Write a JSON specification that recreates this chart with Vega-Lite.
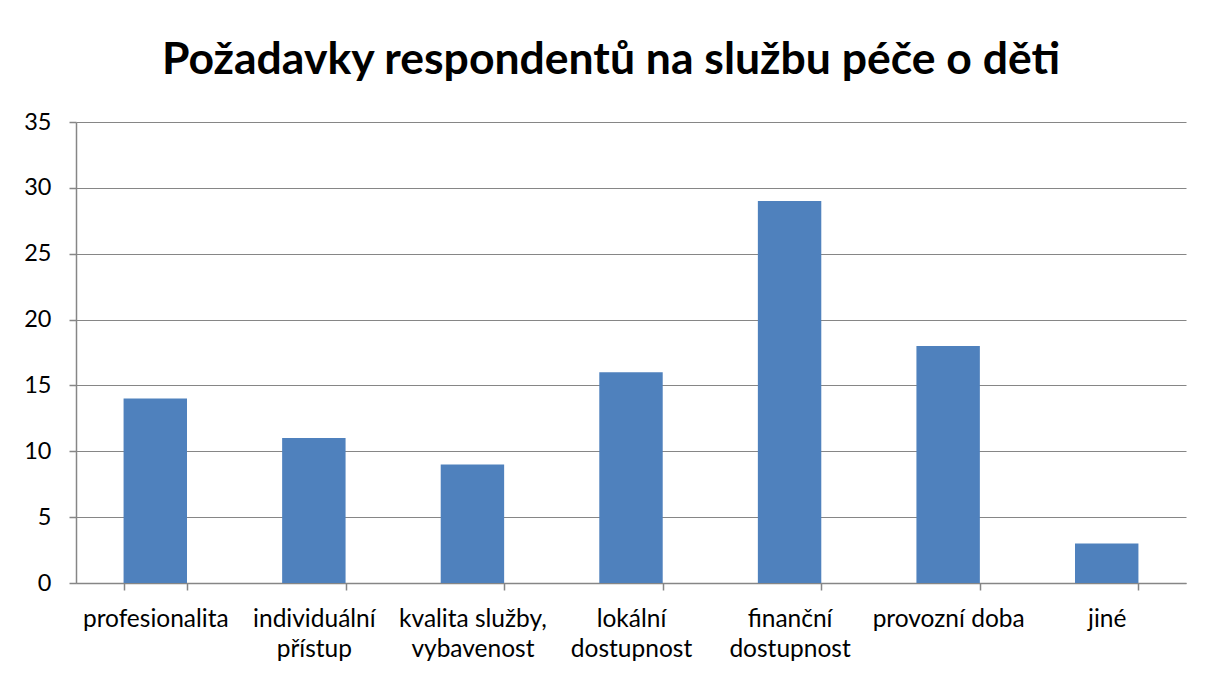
{
  "$schema": "https://vega.github.io/schema/vega-lite/v6.json",
  "width": 1110,
  "height": 461,
  "autosize": {"type": "none"},
  "padding": {"left": 76, "top": 122, "right": 20, "bottom": 92},
  "background": "white",
  "title": {
    "text": "Požadavky respondentů na službu péče o děti",
    "font": "Lato",
    "fontSize": 44.5,
    "fontWeight": "bold",
    "color": "#000000",
    "anchor": "middle",
    "dx": -20,
    "offset": 27
  },
  "data": {
    "values": [
      {"kategorie": "profesionalita", "pocet": 14},
      {"kategorie": "individuální|přístup", "pocet": 11},
      {"kategorie": "kvalita služby,|vybavenost", "pocet": 9},
      {"kategorie": "lokální|dostupnost", "pocet": 16},
      {"kategorie": "finanční|dostupnost", "pocet": 29},
      {"kategorie": "provozní doba", "pocet": 18},
      {"kategorie": "jiné", "pocet": 3}
    ]
  },
  "mark": {"type": "bar", "color": "#4F81BD"},
  "encoding": {
    "x": {
      "field": "kategorie",
      "type": "nominal",
      "sort": null,
      "scale": {"paddingInner": 0.6, "paddingOuter": 0.3},
      "axis": {
        "title": null,
        "labelAngle": 0,
        "labelExpr": "split(datum.label, '|')",
        "labelFont": "Lato",
        "labelFontSize": 24.5,
        "labelColor": "#000000",
        "labelLineHeight": 30,
        "labelPadding": 17,
        "labelBaseline": "top",
        "tickBand": "extent",
        "tickSize": 7,
        "tickColor": "#868686",
        "tickWidth": 1.5,
        "domainColor": "#868686",
        "domainWidth": 1.5
      }
    },
    "y": {
      "field": "pocet",
      "type": "quantitative",
      "scale": {"domain": [0, 35]},
      "axis": {
        "title": null,
        "values": [0, 5, 10, 15, 20, 25, 30, 35],
        "labelFont": "Lato",
        "labelFontSize": 23.5,
        "labelColor": "#000000",
        "labelPadding": 18,
        "tickSize": 7,
        "tickWidth": 1.5,
        "tickColor": "#868686",
        "domainColor": "#868686",
        "domainWidth": 1.5,
        "grid": true,
        "gridColor": "#868686",
        "gridWidth": 1.2
      }
    }
  },
  "config": {
    "view": {"stroke": null}
  }
}
